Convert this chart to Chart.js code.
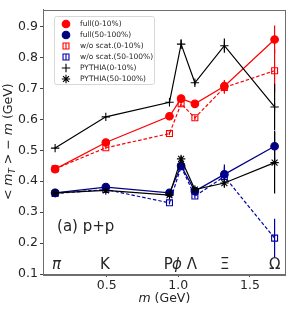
<!DOCTYPE html>
<html>
<head>
<meta charset="utf-8">
<script src="https://cdn.jsdelivr.net/npm/chart.js@4.4.1/dist/chart.umd.min.js"></script>
<style>
  html, body { margin: 0; padding: 0; background: #fff; }
</style>
</head>
<body>
<canvas id="mt" width="291" height="310"></canvas>
<script>
// hadron masses (GeV) and labels
const masses = [0.1396, 0.4937, 0.9383, 1.0195, 1.1157, 1.3217, 1.6725];
const particleNames = ['π', 'K', 'P', 'ϕ', 'Λ', 'Ξ', 'Ω'];
const particleItalic = [true, false, false, true, false, false, false];
const particleLabelX = [0.15, 0.488, 0.93, 0.99, 1.095, 1.325, 1.674];
const particleLabelY = 0.13;

// <mT> - m values
const full010 = [0.439, 0.525, 0.610, 0.667, 0.650, 0.707, 0.858];
const full50100 = [0.362, 0.381, 0.362, 0.450, 0.368, 0.422, 0.513];
const noscat010 = [0.440, 0.508, 0.554, 0.650, 0.605, 0.703, 0.757];
const noscat50100 = [0.360, 0.373, 0.330, 0.447, 0.352, 0.415, 0.216];
const pythia010 = [0.507, 0.608, 0.655, 0.843, 0.718, 0.838, 0.640];
const pythia50100 = [0.362, 0.370, 0.355, 0.472, 0.373, 0.394, 0.460];

// errors
const full010Err = [0.005, 0.005, 0.005, 0.010, 0.005, 0.020, 0.045];
const full50100Err = [0.003, 0.003, 0.005, 0.010, 0.005, 0.032, 0.050];
const noscat010Err = [0.005, 0.005, 0.005, 0.010, 0.008, 0.020, 0.070];
const noscat50100Err = [0.003, 0.003, 0.005, 0.010, 0.008, 0.030, 0.063];
const pythia010Err = [0.003, 0.003, 0.005, 0.016, 0.008, 0.023, 0.075];
const pythia50100Err = [0.003, 0.003, 0.005, 0.010, 0.005, 0.015, 0.100];

const xTicks = [0.5, 1.0, 1.5];
const yTicks = [0.1, 0.2, 0.3, 0.4, 0.5, 0.6, 0.7, 0.8, 0.9];

const FONT = 'DejaVu Sans';
const TXT = '#262626';

function pts(vals) {
  return vals.map((v, i) => ({x: masses[i], y: v}));
}

function series(label, vals, err, color, style, filled, dashed) {
  return {
    label: label,
    data: pts(vals),
    errs: err,
    borderColor: color,
    backgroundColor: filled ? color : 'rgba(0,0,0,0)',
    pointBorderColor: color,
    pointBackgroundColor: filled ? color : 'rgba(0,0,0,0)',
    pointStyle: style,
    pointRadius: style === 'circle' ? 3.8 : 4.2,
    pointBorderWidth: 1.1,
    borderWidth: 1.2,
    borderDash: dashed ? [3.5, 2] : [],
    fill: false,
    tension: 0
  };
}

const datasets = [
  series('full(0-10%)', full010, full010Err, '#ff0000', 'circle', true, false),
  series('full(50-100%)', full50100, full50100Err, '#000080', 'circle', true, false),
  series('w/o scat.(0-10%)', noscat010, noscat010Err, '#ff0000', 'rect', false, true),
  series('w/o scat.(50-100%)', noscat50100, noscat50100Err, '#0000aa', 'rect', false, true),
  series('PYTHIA(0-10%)', pythia010, pythia010Err, '#000000', 'cross', false, false),
  series('PYTHIA(50-100%)', pythia50100, pythia50100Err, '#000000', 'star', false, false)
];
// later series on top, like matplotlib
datasets.forEach((d, i) => { d.order = datasets.length - i; });

function drawMarker(ctx, style, x, y, r) {
  ctx.beginPath();
  if (style === 'circle') {
    ctx.arc(x, y, r, 0, Math.PI * 2);
  } else if (style === 'rect') {
    const s = r * Math.SQRT1_2;
    ctx.rect(x - s, y - s, 2 * s, 2 * s);
  } else {
    ctx.moveTo(x - r, y); ctx.lineTo(x + r, y);
    ctx.moveTo(x, y - r); ctx.lineTo(x, y + r);
    if (style === 'star') {
      const d = r * Math.SQRT1_2;
      ctx.moveTo(x - d, y - d); ctx.lineTo(x + d, y + d);
      ctx.moveTo(x - d, y + d); ctx.lineTo(x + d, y - d);
    }
  }
}

// text with italic / subscript pieces, centred on (0,0)
function drawRich(ctx, parts, size) {
  const fontOf = p => (p.it ? 'italic ' : '') + (p.sub ? size * 0.7 : size) + 'px ' + FONT;
  let w = 0;
  parts.forEach(p => { ctx.font = fontOf(p); p.w = ctx.measureText(p.t).width; w += p.w; });
  let x = -w / 2;
  ctx.textAlign = 'left';
  ctx.textBaseline = 'middle';
  parts.forEach(p => {
    ctx.font = fontOf(p);
    ctx.fillText(p.t, x, p.sub ? size * 0.28 : 0);
    x += p.w;
  });
}

const errorBars = {
  id: 'errorBars',
  beforeDatasetsDraw(chart) {
    const ctx = chart.ctx;
    const xs = chart.scales.x, ys = chart.scales.y;
    ctx.save();
    chart.data.datasets.forEach(ds => {
      ctx.strokeStyle = ds.borderColor;
      ctx.lineWidth = 1.2;
      ds.data.forEach((p, j) => {
        const e = ds.errs[j];
        const px = xs.getPixelForValue(p.x);
        ctx.beginPath();
        ctx.moveTo(px, ys.getPixelForValue(p.y - e));
        ctx.lineTo(px, ys.getPixelForValue(p.y + e));
        ctx.stroke();
      });
    });
    ctx.restore();
  }
};

const decorations = {
  id: 'decorations',
  afterDraw(chart) {
    const ctx = chart.ctx;
    const a = chart.chartArea;
    const xs = chart.scales.x, ys = chart.scales.y;
    ctx.save();

    // frame
    ctx.strokeStyle = '#6e6e6e';
    ctx.lineWidth = 1;
    ctx.strokeRect(Math.round(a.left) + 0.5, Math.round(a.top) + 0.5,
      Math.round(a.right - a.left) - 1, Math.round(a.bottom - a.top));

    ctx.fillStyle = TXT;
    // particle names
    ctx.textAlign = 'center';
    ctx.textBaseline = 'middle';
    particleNames.forEach((n, i) => {
      ctx.font = (particleItalic[i] ? 'italic ' : '') + '15px ' + FONT;
      ctx.fillText(n, xs.getPixelForValue(particleLabelX[i]), ys.getPixelForValue(particleLabelY));
    });

    // panel tag
    ctx.font = '15px ' + FONT;
    ctx.textAlign = 'left';
    ctx.fillText('(a) p+p', xs.getPixelForValue(0.153), ys.getPixelForValue(0.25));

    // axis titles
    ctx.save();
    ctx.translate((a.left + a.right) / 2, 299);
    drawRich(ctx, [{t: 'm', it: true}, {t: ' (GeV)'}], 12.5);
    ctx.restore();

    ctx.save();
    ctx.translate(9, (a.top + a.bottom) / 2);
    ctx.rotate(-Math.PI / 2);
    drawRich(ctx, [{t: '< '}, {t: 'm', it: true}, {t: 'T', it: true, sub: true},
      {t: ' > − '}, {t: 'm', it: true}, {t: ' (GeV)'}], 12.5);
    ctx.restore();

    // legend
    const lx = 54.5, ly = 16.5, lw = 100, lh = 68;
    ctx.fillStyle = 'rgba(255,255,255,0.8)';
    ctx.strokeStyle = '#d8d8d8';
    ctx.lineWidth = 1;
    ctx.beginPath();
    ctx.roundRect(lx, ly, lw, lh, 2);
    ctx.fill();
    ctx.stroke();
    chart.data.datasets.forEach((ds, i) => {
      const y = 24 + i * 11;
      const mx = 66;
      ctx.strokeStyle = ds.borderColor;
      ctx.fillStyle = ds.pointBackgroundColor;
      ctx.lineWidth = 1.1;
      drawMarker(ctx, ds.pointStyle, mx, y, ds.pointStyle === 'circle' ? 3.8 : 4.2);
      if (ds.pointStyle === 'circle') ctx.fill();
      ctx.stroke();
      if (ds.pointStyle === 'rect') {
        ctx.beginPath();
        ctx.moveTo(mx, y - 3);
        ctx.lineTo(mx, y + 3);
        ctx.stroke();
      }
      ctx.fillStyle = TXT;
      ctx.font = '7.5px ' + FONT;
      ctx.textAlign = 'left';
      ctx.textBaseline = 'middle';
      ctx.fillText(ds.label, 80, y);
    });

    ctx.restore();
  }
};

const tickFont = {family: FONT, size: 12.5};

new Chart(document.getElementById('mt'), {
  type: 'line',
  data: {datasets: datasets},
  options: {
    responsive: false,
    animation: false,
    devicePixelRatio: 1,
    layout: {padding: {top: 5, right: 5, left: 0, bottom: 0}},
    plugins: {legend: {display: false}, tooltip: {enabled: false}},
    scales: {
      x: {
        type: 'linear',
        min: 0.055,
        max: 1.75,
        afterBuildTicks: s => { s.ticks = xTicks.map(v => ({value: v})); },
        afterFit: s => { s.height = 36; },
        ticks: {font: tickFont, color: TXT, padding: 1, maxRotation: 0, autoSkip: false,
          callback: v => v.toFixed(1)},
        grid: {drawOnChartArea: false, tickLength: 3, color: '#444'},
        border: {color: '#6e6e6e'}
      },
      y: {
        type: 'linear',
        min: 0.1,
        max: 0.955,
        afterBuildTicks: s => { s.ticks = yTicks.map(v => ({value: v})); },
        afterFit: s => { s.width = 43; },
        ticks: {font: tickFont, color: TXT, padding: 2, autoSkip: false,
          callback: v => v.toFixed(1)},
        grid: {drawOnChartArea: false, tickLength: 3, color: '#444'},
        border: {color: '#6e6e6e'}
      }
    }
  },
  plugins: [errorBars, decorations]
});
</script>
</body>
</html>
